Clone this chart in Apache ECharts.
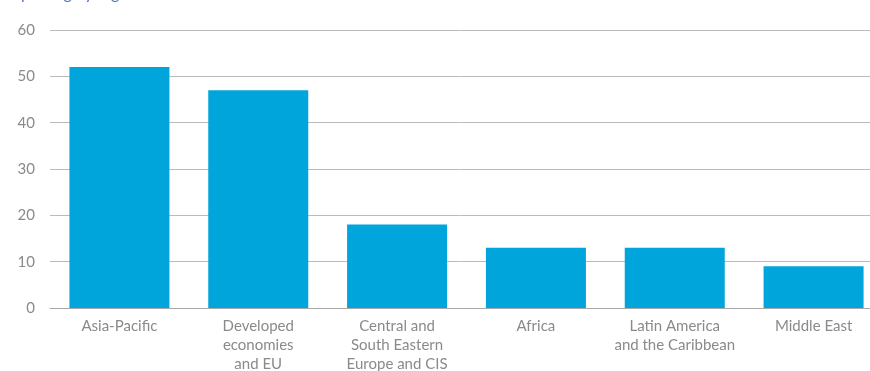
<!DOCTYPE html>
<html><head><meta charset="utf-8">
<script src="https://cdn.jsdelivr.net/npm/echarts@6/dist/echarts.min.js"></script>
<style>html,body{margin:0;padding:0;background:#fff}#c{width:870px;height:371px}</style>
</head><body><div id="c"></div>
<script>
var categories = ["Asia-Pacific", "Developed\neconomies\nand EU", "Central and\nSouth Eastern\nEurope and CIS", "Africa", "Latin America\nand the Caribbean", "Middle East"];
var values = [52, 47, 18, 13, 13, 9];
var yTicks = [0, 10, 20, 30, 40, 50, 60];
var titleText = "Reporting by region";

var chart = echarts.init(document.getElementById('c'), null, {renderer: 'canvas'});
chart.setOption({
  animation: false,
  title: {text: titleText, left: -2, top: -19, textStyle: {color: '#5a72b8', fontSize: 16, fontWeight: 'normal', fontFamily: 'Lato'}},
  grid: {left: 50, width: 833, top: 30, bottom: 63, containLabel: false, outerBoundsMode: 'none'},
  xAxis: {
    type: 'category', data: categories,
    axisLine: {lineStyle: {color: '#aaaaaa', width: 1}},
    axisTick: {show: false},
    axisLabel: {color: '#8a8a8a', fontSize: 15, fontFamily: 'Lato', lineHeight: 19, margin: 9, interval: 0}
  },
  yAxis: {
    type: 'value', min: yTicks[0], max: yTicks[yTicks.length - 1], interval: 10,
    axisLine: {show: false}, axisTick: {show: false},
    splitLine: {lineStyle: {color: '#bbbbbb', width: 1}},
    axisLabel: {color: '#8a8a8a', fontSize: 15, fontFamily: 'Lato', margin: 15}
  },
  series: [{type: 'bar', data: values, barWidth: 100, itemStyle: {color: '#00a5db'}}]
});
</script></body></html>
